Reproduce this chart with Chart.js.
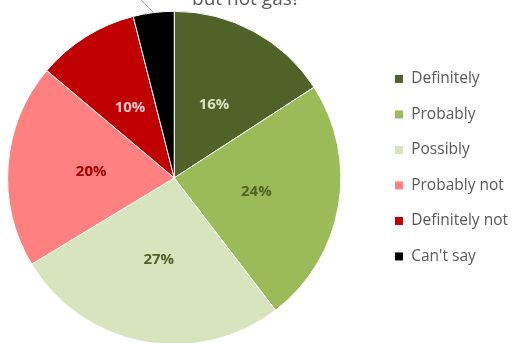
<!DOCTYPE html>
<html>
<head>
<meta charset="utf-8">
<script src="https://cdn.jsdelivr.net/npm/chart.js@4"></script>
<style>
  html, body { margin: 0; padding: 0; background: #fff; }
  #marco { position: relative; width: 512px; height: 343px; overflow: hidden; }
  #lienzo { position: absolute; left: -26px; top: -21px; width: 544px; height: 366px; }
</style>
</head>
<body>
<div id="marco">
  <div id="lienzo"><canvas id="grafico"></canvas></div>
</div>
<script>
var categorias = ['Definitely', 'Probably', 'Possibly', 'Probably not', 'Definitely not', "Can't say"];
var porcentajes = [16, 24, 27, 20, 10, 4];
var coloresSector = ['#4f6228', '#9bbb59', '#d7e4bd', '#ff8080', '#c00000', '#000000'];
var coloresEtiqueta = ['#d7e4bd', '#4f6228', '#4f6228', '#a00000', '#ffc7c7', '#595959'];
var titulo = 'but not gas?';

// Etiquetas de porcentaje dentro de cada sector; la última va fuera con línea guía
var etiquetasSector = {
    id: 'etiquetasSector',
    afterDatasetsDraw: function (chart) {
        var ctx = chart.ctx;
        var arcos = chart.getDatasetMeta(0).data;
        ctx.save();
        ctx.font = 'bold 15px "Open Sans", sans-serif';
        ctx.textAlign = 'center';
        ctx.textBaseline = 'middle';
        arcos.forEach(function (arco, i) {
            var texto = porcentajes[i] + '%';
            ctx.fillStyle = coloresEtiqueta[i];
            if (i < arcos.length - 1) {
                var pos = arco.tooltipPosition();
                ctx.fillText(texto, pos.x, pos.y);
            } else {
                var p = arco.getProps(['x', 'y', 'startAngle', 'endAngle', 'outerRadius']);
                var medio = (p.startAngle + p.endAngle) / 2;
                var x0 = p.x + Math.cos(medio) * p.outerRadius;
                var y0 = p.y + Math.sin(medio) * p.outerRadius;
                var x1 = x0 - 20;
                var y1 = y0 - 20;
                ctx.strokeStyle = '#a6a6a6';
                ctx.lineWidth = 1;
                ctx.beginPath();
                ctx.moveTo(x0, y0);
                ctx.lineTo(x1, y1);
                ctx.stroke();
                ctx.fillText(texto, x1 - 10, y1 - 8);
            }
        });
        ctx.restore();
    }
};

var ctx = document.getElementById('grafico').getContext('2d');
var myChart = new Chart(ctx, {
    type: 'pie',
    data: {
        labels: categorias,
        datasets: [{
            data: porcentajes,
            backgroundColor: coloresSector,
            borderColor: '#ffffff',
            borderWidth: 1
        }]
    },
    options: {
        responsive: true,
        maintainAspectRatio: false,
        animation: false,
        layout: { padding: 0 },
        plugins: {
            title: {
                display: true,
                text: titulo,
                color: '#595959',
                font: { family: '"Open Sans", sans-serif', size: 19, weight: 'normal' },
                padding: { top: 9, bottom: 0 }
            },
            legend: {
                position: 'right',
                align: 'start',
                title: { display: true, text: '', padding: { top: 71, bottom: 0 }, font: { size: 1 } },
                labels: {
                    boxWidth: 9,
                    boxHeight: 9,
                    padding: 20,
                    color: '#595959',
                    font: { family: '"Open Sans", sans-serif', size: 15.5 }
                }
            },
            tooltip: { enabled: false }
        }
    },
    plugins: [etiquetasSector]
});
</script>
</body>
</html>
